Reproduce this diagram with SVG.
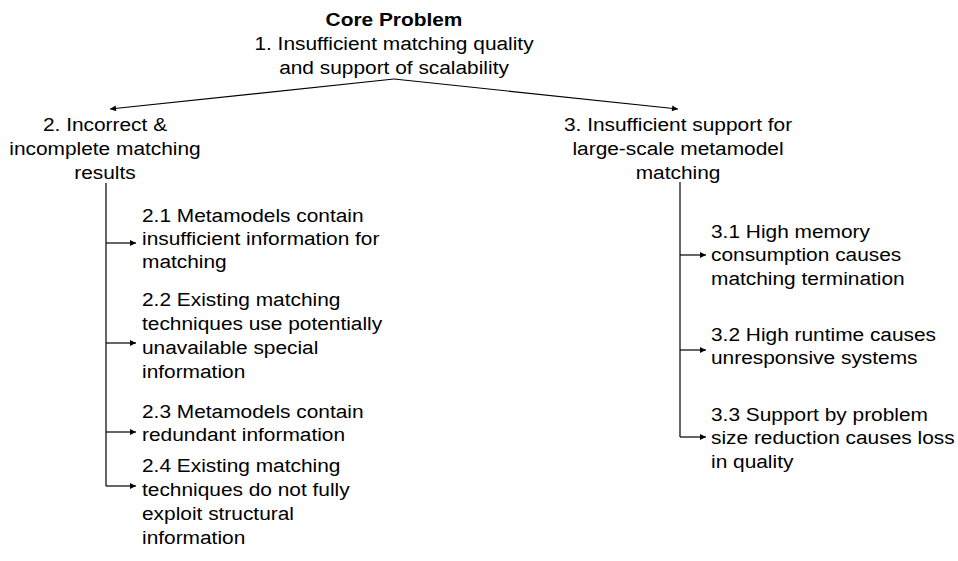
<svg xmlns="http://www.w3.org/2000/svg" width="958" height="561" viewBox="0 0 958 561">
  <style>
    text { font-family: "Liberation Sans", Arial, sans-serif; font-size: 18px; fill: #000; }
    .main { text-anchor: middle; }
    .bold { font-weight: bold; }
    .conn { stroke: #000; stroke-width: 1.2; fill: none; }
  </style>
  <defs>
    <marker id="arr" viewBox="0 0 10 10" refX="10" refY="5" markerWidth="8" markerHeight="6" markerUnits="userSpaceOnUse" orient="auto">
      <path d="M0,0 L10,5 L0,10 z" fill="#000"/>
    </marker>
  </defs>

  <g id="connectors">
    <path class="conn" d="M394,79 L110,109" marker-end="url(#arr)"/>
    <path class="conn" d="M394,79 L678,109" marker-end="url(#arr)"/>
    <!-- left branch -->
    <path class="conn" d="M106,183 L106,486"/>
    <path class="conn" d="M106,243 L136,243" marker-end="url(#arr)"/>
    <path class="conn" d="M106,343 L136,343" marker-end="url(#arr)"/>
    <path class="conn" d="M106,432 L136,432" marker-end="url(#arr)"/>
    <path class="conn" d="M106,486 L136,486" marker-end="url(#arr)"/>
    <!-- right branch -->
    <path class="conn" d="M680,182 L680,437"/>
    <path class="conn" d="M680,255 L706,255" marker-end="url(#arr)"/>
    <path class="conn" d="M680,350 L706,350" marker-end="url(#arr)"/>
    <path class="conn" d="M680,437 L706,437" marker-end="url(#arr)"/>
  </g>

  <!-- text is set slightly wide: each block is scaled 1.16 horizontally -->
  <g id="node-1" transform="translate(394 0) scale(1.16 1)">
    <text class="main bold" x="0" y="26">Core Problem</text>
    <text class="main" x="0" y="50">1. Insufficient matching quality</text>
    <text class="main" x="0" y="74">and support of scalability</text>
  </g>

  <g id="node-2" transform="translate(105 0) scale(1.16 1)">
    <text class="main" x="0" y="131">2. Incorrect &amp;</text>
    <text class="main" x="0" y="155">incomplete matching</text>
    <text class="main" x="0" y="179">results</text>
  </g>

  <g id="node-3" transform="translate(678 0) scale(1.16 1)">
    <text class="main" x="0" y="131">3. Insufficient support for</text>
    <text class="main" x="0" y="155">large-scale metamodel</text>
    <text class="main" x="0" y="179">matching</text>
  </g>

  <g id="node-2-1" transform="translate(142 0) scale(1.16 1)">
    <text x="0" y="222">2.1 Metamodels contain</text>
    <text x="0" y="245">insufficient information for</text>
    <text x="0" y="268">matching</text>
  </g>
  <g id="node-2-2" transform="translate(142 0) scale(1.16 1)">
    <text x="0" y="306">2.2 Existing matching</text>
    <text x="0" y="330">techniques use potentially</text>
    <text x="0" y="354">unavailable special</text>
    <text x="0" y="378">information</text>
  </g>
  <g id="node-2-3" transform="translate(142 0) scale(1.16 1)">
    <text x="0" y="418">2.3 Metamodels contain</text>
    <text x="0" y="441">redundant information</text>
  </g>
  <g id="node-2-4" transform="translate(142 0) scale(1.16 1)">
    <text x="0" y="472">2.4 Existing matching</text>
    <text x="0" y="496">techniques do not fully</text>
    <text x="0" y="520">exploit structural</text>
    <text x="0" y="544">information</text>
  </g>

  <g id="node-3-1" transform="translate(711 0) scale(1.16 1)">
    <text x="0" y="238">3.1 High memory</text>
    <text x="0" y="261">consumption causes</text>
    <text x="0" y="285">matching termination</text>
  </g>
  <g id="node-3-2" transform="translate(711 0) scale(1.16 1)">
    <text x="0" y="341">3.2 High runtime causes</text>
    <text x="0" y="364">unresponsive systems</text>
  </g>
  <g id="node-3-3" transform="translate(711 0) scale(1.16 1)">
    <text x="0" y="421">3.3 Support by problem</text>
    <text x="0" y="444">size reduction causes loss</text>
    <text x="0" y="468">in quality</text>
  </g>
</svg>
